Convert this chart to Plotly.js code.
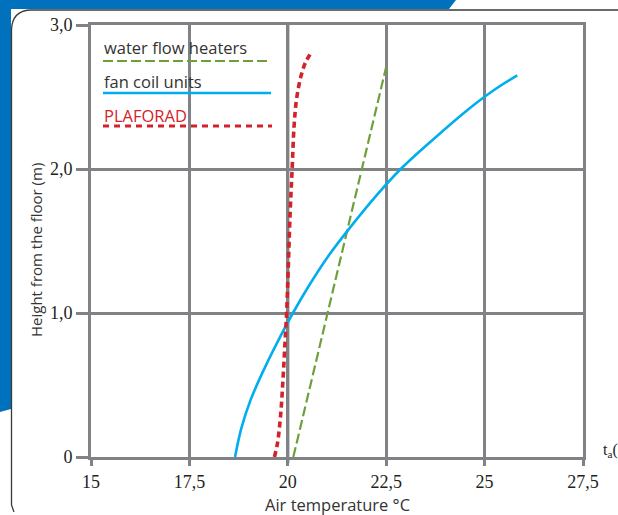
<!DOCTYPE html>
<html>
<head>
<meta charset="utf-8">
<script src="https://cdn.plot.ly/plotly-3.0.1.min.js"></script>
<style>html,body{margin:0;padding:0;background:#fff;}#chart{width:618px;height:515px;}</style>
</head>
<body>
<div id="chart"></div>
<script>
// ---- data ----
const seriesNames = ["water flow heaters", "fan coil units", "PLAFORAD"];
const waterTemp = [20.14, 22.5];
const waterHeight = [0, 2.71];
const fanTemp = [18.66, 18.82, 19.06, 19.38, 19.74, 20.13, 20.56, 21.04, 21.6, 22.2, 22.87, 23.67, 24.52, 25.25, 25.83];
const fanHeight = [0, 0.2, 0.4, 0.6, 0.8, 1.0, 1.2, 1.4, 1.6, 1.8, 2.0, 2.2, 2.4, 2.55, 2.65];
const plaTemp = [19.66, 19.74, 19.82, 19.88, 19.93, 19.97, 20.01, 20.06, 20.11, 20.16, 20.22, 20.33, 20.45, 20.6];
const plaHeight = [0, 0.1, 0.3, 0.55, 0.8, 1.0, 1.3, 1.7, 2.0, 2.3, 2.48, 2.64, 2.74, 2.81];
const xTickVals = [15, 17.5, 20, 22.5, 25, 27.5];
const xTickText = ["15", "17,5", "20", "22,5", "25", "27,5"];
const yTickVals = [0, 1, 2, 3];
const yTickText = ["0", "1,0", "2,0", "3,0"];

// ---- layout helpers (pixel -> paper) ----
const W = 618, H = 515, L = 91, R = 583, T = 25, B = 457;
const px = x => (x - L) / (R - L);
const py = y => (B - y) / (B - T);

const colors = {green: "#6e9f3a", blue: "#00aeef", red: "#d2232a", grid: "#808285", dark: "#58595b", text: "#333333"};

const traces = [
  {x: waterTemp, y: waterHeight, name: seriesNames[0], mode: "lines",
   line: {color: colors.green, width: 2.2, dash: "10px,4px"}},
  {x: fanTemp, y: fanHeight, name: seriesNames[1], mode: "lines",
   line: {color: colors.blue, width: 2.6, shape: "spline", smoothing: 1}},
  {x: plaTemp, y: plaHeight, name: seriesNames[2], mode: "lines",
   line: {color: colors.red, width: 3.6, dash: "6px,4px", shape: "spline"}}
];

const shapes = [
  // blue decoration (top bar + left strip)
  {type: "path", xref: "paper", yref: "paper", layer: "below",
   path: `M ${px(0)},${py(0)} L ${px(456)},${py(0)} L ${px(449)},${py(9)} L ${px(11)},${py(9)} L ${px(11)},${py(409)} L ${px(0)},${py(412)} Z`,
   fillcolor: "#0071bc", line: {width: 0}},
  // panel border
  {type: "path", xref: "paper", yref: "paper", layer: "below",
   path: `M ${px(618)},${py(10)} L ${px(30)},${py(10)} Q ${px(12)},${py(11)} ${px(11.5)},${py(30)} L ${px(11.5)},${py(505)} L ${px(14)},${py(512)}`,
   line: {color: "#3a3a3a", width: 1.3}},
  // white legend area covering gridlines
  {type: "rect", xref: "paper", yref: "paper", layer: "between",
   x0: px(92.5), x1: px(289.5), y0: py(26.5), y1: py(132), fillcolor: "#ffffff", line: {width: 0}},
  // dark line at 20 °C
  {type: "line", xref: "x", yref: "paper", layer: "between",
   x0: 20, x1: 20, y0: py(463), y1: 1, line: {color: colors.dark, width: 3}},
  // legend samples
  {type: "line", xref: "paper", yref: "paper", x0: px(103), x1: px(271), y0: py(61), y1: py(61),
   line: {color: colors.green, width: 2.2, dash: "10px,4px"}},
  {type: "line", xref: "paper", yref: "paper", x0: px(103), x1: px(271), y0: py(93), y1: py(93),
   line: {color: colors.blue, width: 2.6}},
  {type: "line", xref: "paper", yref: "paper", x0: px(103), x1: px(272), y0: py(126), y1: py(126),
   line: {color: colors.red, width: 3, dash: "6px,5px"}}
];

const sans = "Open Sans, Noto Sans, sans-serif";
const annotations = [
  {text: seriesNames[0], xref: "paper", yref: "paper", x: px(102), y: py(48), xanchor: "left", yanchor: "middle",
   showarrow: false, font: {family: sans, size: 16.5, color: colors.text}},
  {text: seriesNames[1], xref: "paper", yref: "paper", x: px(102), y: py(82), xanchor: "left", yanchor: "middle",
   showarrow: false, font: {family: sans, size: 16.5, color: colors.text}},
  {text: seriesNames[2], xref: "paper", yref: "paper", x: px(102), y: py(115), xanchor: "left", yanchor: "middle",
   showarrow: false, font: {family: sans, size: 16.5, color: colors.red}},
  {text: "Height from the floor (m)", xref: "paper", yref: "paper", x: px(36), y: py(250), textangle: -90,
   xanchor: "center", yanchor: "middle", showarrow: false, font: {family: sans, size: 15, color: colors.text}},
  {text: "Air temperature °C", xref: "paper", yref: "paper", x: px(337), y: py(504),
   xanchor: "center", yanchor: "middle", showarrow: false, font: {family: sans, size: 16.5, color: colors.text}},
  {text: "t<sub>a</sub>(", xref: "paper", yref: "paper", x: px(601), y: py(450),
   xanchor: "left", yanchor: "middle", showarrow: false, font: {family: "Liberation Serif, serif", size: 16, color: "#231f20"}}
];

const axisCommon = {
  showgrid: true, gridcolor: colors.grid, gridwidth: 3,
  showline: true, linecolor: colors.grid, linewidth: 3, mirror: true,
  zeroline: false, ticks: "outside", tickcolor: colors.grid, tickwidth: 3,
  tickfont: {family: "Liberation Serif, serif", size: 18, color: "#231f20"},
  tickmode: "array", fixedrange: true
};

const layout = {
  width: W, height: H,
  margin: {l: L, r: W - R, t: T, b: H - B},
  paper_bgcolor: "#ffffff", plot_bgcolor: "rgba(0,0,0,0)",
  showlegend: false,
  xaxis: Object.assign({}, axisCommon, {range: [15, 27.5], tickvals: xTickVals, ticktext: xTickText, ticklen: 6}),
  yaxis: Object.assign({}, axisCommon, {range: [0, 3], tickvals: yTickVals, ticktext: yTickText, ticklen: 12}),
  shapes: shapes,
  annotations: annotations
};

Plotly.newPlot("chart", traces, layout, {displayModeBar: false, staticPlot: true});
</script>
</body>
</html>
